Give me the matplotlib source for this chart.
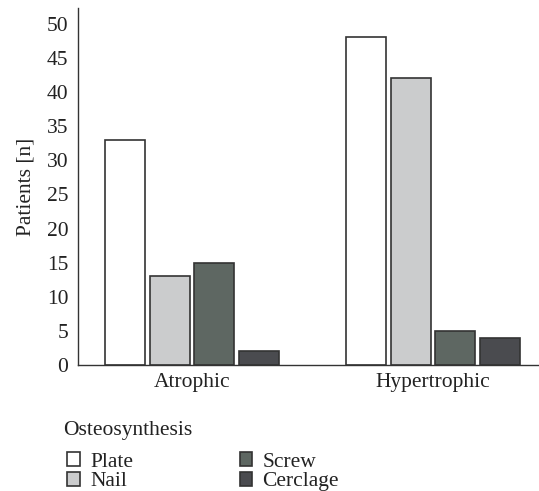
import matplotlib.pyplot as plt
import numpy as np

plt.rcParams['font.family'] = ['Liberation Serif', 'DejaVu Serif']

groups = ['Atrophic', 'Hypertrophic']
methods = ['Plate', 'Nail', 'Screw', 'Cerclage']
plate = [33, 48]
nail = [13, 42]
screw = [15, 5]
cerclage = [2, 4]
colors = ['#ffffff', '#cbcccd', '#5e6762', '#4a4b4f']

series = [plate, nail, screw, cerclage]
x = np.arange(len(groups))
width = 0.166
step = 0.186
fs = 15.5

fig = plt.figure(figsize=(5.39, 4.91), dpi=100)
ax = fig.add_axes([0.1447, 0.2566, 0.8553, 0.727])

for i, (vals, c, name) in enumerate(zip(series, colors, methods)):
    ax.bar(x + (i - 1.5) * step, vals, width, color=c, edgecolor='#333333',
           linewidth=1.2, label=name)

ax.set_xlim(-0.473, 1.44)
ax.set_ylim(0, 52.3)
ax.set_yticks(np.arange(0, 51, 5))
ax.set_xticks(x)
ax.set_xticklabels(groups)
ax.tick_params(length=0, labelsize=fs, colors='#222222', pad=6)
ax.tick_params(axis='y', pad=7)
ax.set_ylabel('Patients [n]', fontsize=fs, color='#222222', labelpad=8)
for s in ['top', 'right']:
    ax.spines[s].set_visible(False)
for s in ['left', 'bottom']:
    ax.spines[s].set_color('#333333')
    ax.spines[s].set_linewidth(1.0)

fig.text(63 / 539, 1 - 430 / 491, 'Osteosynthesis', fontsize=fs,
         color='#222222', va='center', ha='left')
leg = fig.legend(loc='upper left', bbox_to_anchor=(0.125, 0.079), ncol=2,
                 frameon=False, fontsize=fs, handlelength=0.6,
                 handleheight=0.6, handletextpad=0.45, columnspacing=4.95,
                 labelspacing=0.02, borderpad=0, borderaxespad=0)
for t in leg.get_texts():
    t.set_color('#222222')

fig.savefig('out.png', dpi=100)
